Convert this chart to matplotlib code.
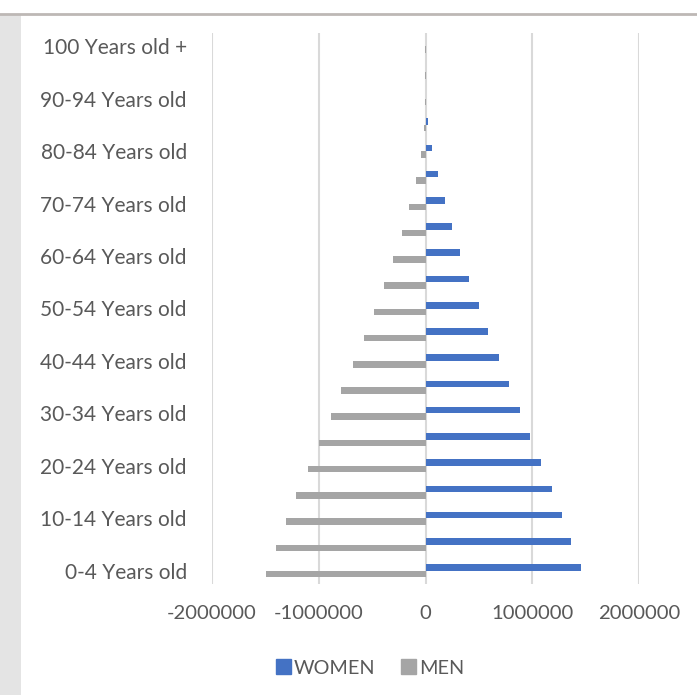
import matplotlib
matplotlib.use("Agg")
import matplotlib.pyplot as plt
from matplotlib.patches import Rectangle, Patch
from matplotlib.lines import Line2D
import numpy as np

plt.rcParams['font.family'] = ['Lato', 'DejaVu Sans']

age_groups = ["0-4", "5-9", "10-14", "15-19", "20-24", "25-29", "30-34",
              "35-39", "40-44", "45-49", "50-54", "55-59", "60-64", "65-69",
              "70-74", "75-79", "80-84", "85-89", "90-94", "95-99", "100"]
category_labels = [f"{a} Years old" for a in age_groups[:-1]] + ["100 Years old +"]

women = [1457000, 1366000, 1276000, 1182000, 1079000, 979000, 882000,
         785000, 686000, 589000, 498000, 407000, 326000, 245000,
         183000, 114000, 61000, 23000, 6000, 1000, 200]
men = [1497000, 1398000, 1307000, 1210000, 1101000, 995000, 885000,
       789000, 682000, 579000, 482000, 392000, 302000, 223000,
       152000, 92000, 45000, 14000, 3000, 500, 100]

x_ticks = [-2000000, -1000000, 0, 1000000, 2000000]

W, H = 697, 695
fig = plt.figure(figsize=(W / 100, H / 100), dpi=100)

# frame decorations: grey strip on the left and a rule across the top
fig.patches.append(Rectangle((0, 0), 21 / W, 1 - 15 / H, transform=fig.transFigure,
                             facecolor="#e4e4e4", edgecolor="none", zorder=0))
fig.lines.append(Line2D([0, 1], [1 - 14 / H, 1 - 14 / H], transform=fig.transFigure,
                        color="#bdb8b5", lw=2))

ax = fig.add_axes([212 / W, 1 - 584 / H, (639 - 212) / W, (584 - 33) / H])

y = np.arange(len(age_groups))
h = 0.25
ax.barh(y + h / 2, women, height=h, color="#4472C4", label="WOMEN", zorder=3)
ax.barh(y - h / 2, [-m for m in men], height=h, color="#A5A5A5", label="MEN", zorder=3)

ax.set_xlim(-2000000, 2000000)
ax.set_ylim(-0.5, len(age_groups) - 0.5)
ax.set_xticks(x_ticks)
ax.set_xticklabels([str(v) for v in x_ticks])
ax.set_yticks(y[::2])
ax.set_yticklabels(category_labels[::2])

ax.grid(axis="x", color="#d9d9d9", lw=1.5, zorder=0)
ax.set_axisbelow(True)
for s in ax.spines.values():
    s.set_visible(False)
ax.tick_params(axis="both", length=0, labelcolor="#595959")
ax.tick_params(axis="x", labelsize=14.6, pad=15)
ax.tick_params(axis="y", labelsize=15, pad=18)

handles = [Patch(color="#4472C4"), Patch(color="#A5A5A5")]
fig.legend(handles, ["WOMEN", "MEN"], loc="center", bbox_to_anchor=(370 / W, 1 - 668 / H),
           ncol=2, frameon=False, fontsize=14.3, labelcolor="#595959",
           handlelength=0.75, handleheight=0.75, handletextpad=0.15, columnspacing=1.3)

fig.savefig("out.png", dpi=100, facecolor="white")
